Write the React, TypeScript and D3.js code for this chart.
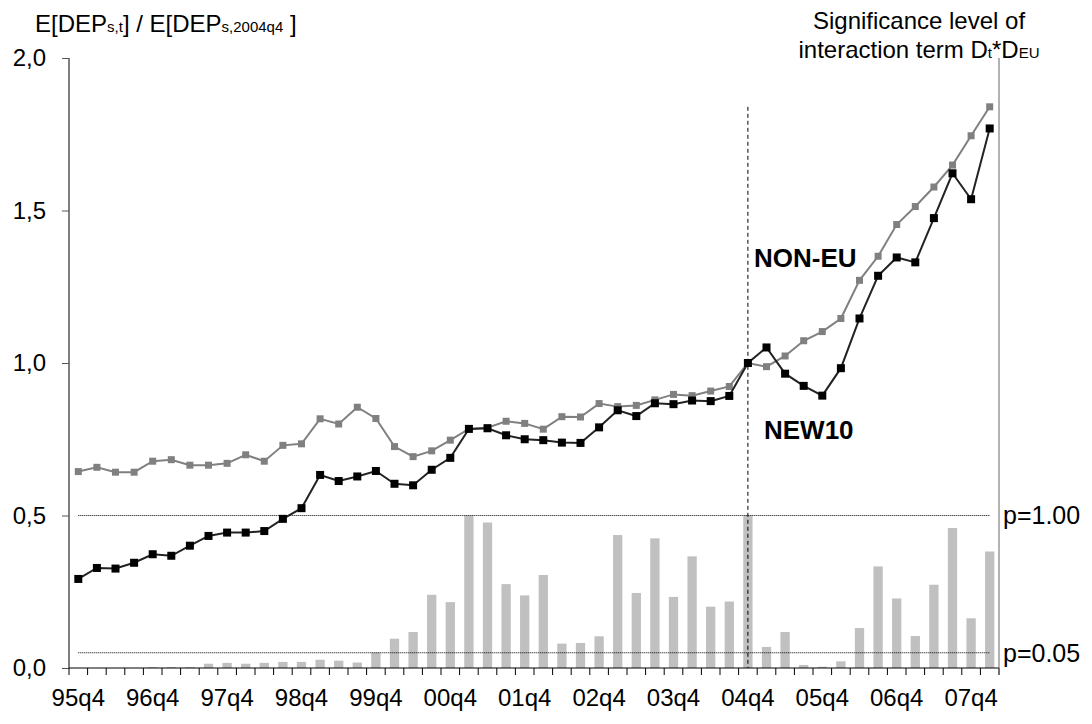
import { useEffect, useRef } from 'react';
import * as d3 from 'd3';

// quarters 95q4 .. 08q1
const quarters = [
  '95q4',
  '96q1', '96q2', '96q3', '96q4',
  '97q1', '97q2', '97q3', '97q4',
  '98q1', '98q2', '98q3', '98q4',
  '99q1', '99q2', '99q3', '99q4',
  '00q1', '00q2', '00q3', '00q4',
  '01q1', '01q2', '01q3', '01q4',
  '02q1', '02q2', '02q3', '02q4',
  '03q1', '03q2', '03q3', '03q4',
  '04q1', '04q2', '04q3', '04q4',
  '05q1', '05q2', '05q3', '05q4',
  '06q1', '06q2', '06q3', '06q4',
  '07q1', '07q2', '07q3', '07q4',
  '08q1'
];

const tickLabels = ['95q4', '96q4', '97q4', '98q4', '99q4', '00q4', '01q4', '02q4', '03q4', '04q4', '05q4', '06q4', '07q4'];

const nonEu = [
  0.644, 0.658, 0.642, 0.642, 0.678, 0.683, 0.665, 0.665, 0.671, 0.699,
  0.678, 0.730, 0.735, 0.817, 0.800, 0.855, 0.818, 0.726, 0.693, 0.712,
  0.747, 0.784, 0.788, 0.809, 0.802, 0.783, 0.824, 0.823, 0.867, 0.857,
  0.861, 0.879, 0.897, 0.893, 0.908, 0.923, 1.000, 0.988, 1.023, 1.073,
  1.103, 1.146, 1.271, 1.350, 1.454, 1.513, 1.577, 1.649, 1.745, 1.840
];

const new10 = [
  0.292, 0.328, 0.326, 0.345, 0.373, 0.368, 0.401, 0.433, 0.444, 0.444,
  0.449, 0.489, 0.524, 0.633, 0.613, 0.628, 0.646, 0.604, 0.599, 0.650,
  0.689, 0.784, 0.786, 0.763, 0.750, 0.747, 0.739, 0.738, 0.789, 0.845,
  0.826, 0.868, 0.865, 0.877, 0.875, 0.892, 1.000, 1.051, 0.965, 0.925,
  0.893, 0.983, 1.146, 1.286, 1.346, 1.330, 1.475, 1.622, 1.537, 1.769
];

// significance bars, in units of the left axis (p=1.00 sits at 0.5)
const sigBars = [
  0, 0, 0, 0, 0.003, 0.003, 0.003, 0.014, 0.017, 0.014,
  0.017, 0.020, 0.020, 0.027, 0.024, 0.018, 0.051, 0.096, 0.118, 0.240,
  0.216, 0.500, 0.477, 0.275, 0.238, 0.305, 0.080, 0.082, 0.104, 0.436,
  0.246, 0.425, 0.233, 0.366, 0.201, 0.218, 0.500, 0.069, 0.118, 0.010,
  0.004, 0.022, 0.131, 0.333, 0.228, 0.105, 0.273, 0.459, 0.163, 0.382
];

const yTicks = [0, 0.5, 1, 1.5, 2];
const pLines = [
  { value: 0.5, label: 'p=1.00' },
  { value: 0.05, label: 'p=0.05' }
];
const breakQuarter = '04q4';
const breakTop = 1.84;

const FONT = "'Liberation Sans', Arial, Helvetica, sans-serif";

export default function App() {
  const chartRef = useRef<SVGSVGElement | null>(null);

  useEffect(() => {
    if (!chartRef.current) return;
    const svg = d3.select(chartRef.current);
    svg.selectAll('*').remove();

    const margin = { top: 58, right: 93, bottom: 56, left: 69 };
    const width = 1092;
    const height = 724;
    const innerWidth = width - margin.left - margin.right;
    const innerHeight = height - margin.top - margin.bottom;

    const x = d3.scaleBand().domain(quarters).range([0, innerWidth]).padding(0);
    const bw = x.bandwidth();
    const cx = (q: string) => (x(q) || 0) + bw / 2;
    const y = d3.scaleLinear().domain([0, 2]).range([innerHeight, 0]);

    const g = svg
      .append('g')
      .attr('transform', `translate(${margin.left}, ${margin.top})`)
      .style('font-family', FONT);

    // significance bars
    g.selectAll('rect.sig')
      .data(sigBars)
      .enter()
      .append('rect')
      .attr('class', 'sig')
      .attr('x', (_, i) => (x(quarters[i]) || 0) + bw * 0.25)
      .attr('width', bw * 0.5)
      .attr('y', (d) => y(d))
      .attr('height', (d) => innerHeight - y(d))
      .attr('fill', '#c0c0c0');

    // p reference lines
    pLines.forEach((p) => {
      g.append('line')
        .attr('x1', cx(quarters[0]))
        .attr('x2', cx(quarters[quarters.length - 1]))
        .attr('y1', y(p.value))
        .attr('y2', y(p.value))
        .attr('stroke', '#000')
        .attr('stroke-width', 1)
        .attr('stroke-dasharray', '1,1');
      g.append('text')
        .attr('x', innerWidth + 4)
        .attr('y', y(p.value))
        .attr('dy', '0.35em')
        .style('font-size', '25px')
        .text(p.label);
    });

    // break at 2004q4
    g.append('line')
      .attr('x1', cx(breakQuarter))
      .attr('x2', cx(breakQuarter))
      .attr('y1', y(breakTop))
      .attr('y2', innerHeight)
      .attr('stroke', '#000')
      .attr('stroke-width', 1)
      .attr('stroke-dasharray', '4,3');

    // axes
    const yAxis = d3
      .axisLeft(y)
      .tickValues(yTicks)
      .tickSize(7)
      .tickPadding(16)
      .tickFormat((d) => d3.format('.1f')(Number(d)).replace('.', ','));
    const ya = g.append('g').call(yAxis);
    ya.select('.domain').attr('stroke', '#000').attr('d', `M0,0V${innerHeight}`);
    ya.selectAll('.tick line').attr('stroke', '#555');
    ya.selectAll('text').style('font-size', '24px').style('font-family', FONT).attr('fill', '#000');

    const xAxis = d3.axisBottom(x).tickValues(tickLabels).tickSize(0).tickPadding(21);
    const xa = g.append('g').attr('transform', `translate(0, ${innerHeight})`).call(xAxis);
    xa.select('.domain').remove();
    xa.selectAll('text').style('font-size', '24px').style('font-family', FONT).attr('fill', '#000');

    g.append('line')
      .attr('x1', 0)
      .attr('x2', innerWidth)
      .attr('y1', innerHeight)
      .attr('y2', innerHeight)
      .attr('stroke', '#000');
    d3.range(quarters.length + 1).forEach((i) => {
      g.append('line')
        .attr('x1', i * bw)
        .attr('x2', i * bw)
        .attr('y1', innerHeight)
        .attr('y2', innerHeight + 7)
        .attr('stroke', '#000');
    });

    // right axis
    g.append('line')
      .attr('x1', innerWidth)
      .attr('x2', innerWidth)
      .attr('y1', 0)
      .attr('y2', innerHeight + 7)
      .attr('stroke', '#666');

    // series lines
    const series = [
      { values: nonEu, color: '#808080', lineColor: '#808080', size: 7 },
      { values: new10, color: '#000', lineColor: '#222', size: 8 }
    ];
    series.forEach((s) => {
      const line = d3
        .line<number>()
        .x((_, i) => cx(quarters[i]))
        .y((d) => y(d));
      g.append('path')
        .datum(s.values)
        .attr('d', line)
        .attr('fill', 'none')
        .attr('stroke', s.lineColor)
        .attr('stroke-width', 2);
      g.selectAll(null)
        .data(s.values)
        .enter()
        .append('rect')
        .attr('x', (_, i) => cx(quarters[i]) - s.size / 2)
        .attr('y', (d) => y(d) - s.size / 2)
        .attr('width', s.size)
        .attr('height', s.size)
        .attr('fill', s.color);
    });

    // series labels
    g.append('text')
      .attr('x', 754 - margin.left)
      .attr('y', 267 - margin.top)
      .style('font-size', '26px')
      .style('font-weight', 'bold')
      .text('NON-EU');
    g.append('text')
      .attr('x', 764 - margin.left)
      .attr('y', 439 - margin.top)
      .style('font-size', '26px')
      .style('font-weight', 'bold')
      .text('NEW10');

    // left title
    const lt = svg
      .append('text')
      .attr('x', 35)
      .attr('y', 32)
      .style('font-family', FONT)
      .style('font-size', '24px');
    lt.append('tspan').text('E[DEP');
    lt.append('tspan').style('font-size', '15px').text('s,t');
    lt.append('tspan').text('] / E[DEP');
    lt.append('tspan').style('font-size', '15px').text('s,2004q4');
    lt.append('tspan').text('\u00a0]');

    // right title
    const rt = svg
      .append('text')
      .attr('x', 919)
      .attr('y', 29)
      .attr('text-anchor', 'middle')
      .style('font-family', FONT)
      .style('font-size', '24px');
    rt.append('tspan').text('Significance level of');
    const rt2 = svg
      .append('text')
      .attr('x', 919)
      .attr('y', 58)
      .attr('text-anchor', 'middle')
      .style('font-family', FONT)
      .style('font-size', '24px');
    rt2.append('tspan').text('interaction term D');
    rt2.append('tspan').style('font-size', '15px').text('t');
    rt2.append('tspan').text('*D');
    rt2.append('tspan').style('font-size', '15px').text('EU');
  }, []);

  return (
    <svg
      ref={chartRef}
      width={1092}
      height={724}
      style={{ position: 'absolute', left: 0, top: 0, background: '#fff' }}
    />
  );
}
